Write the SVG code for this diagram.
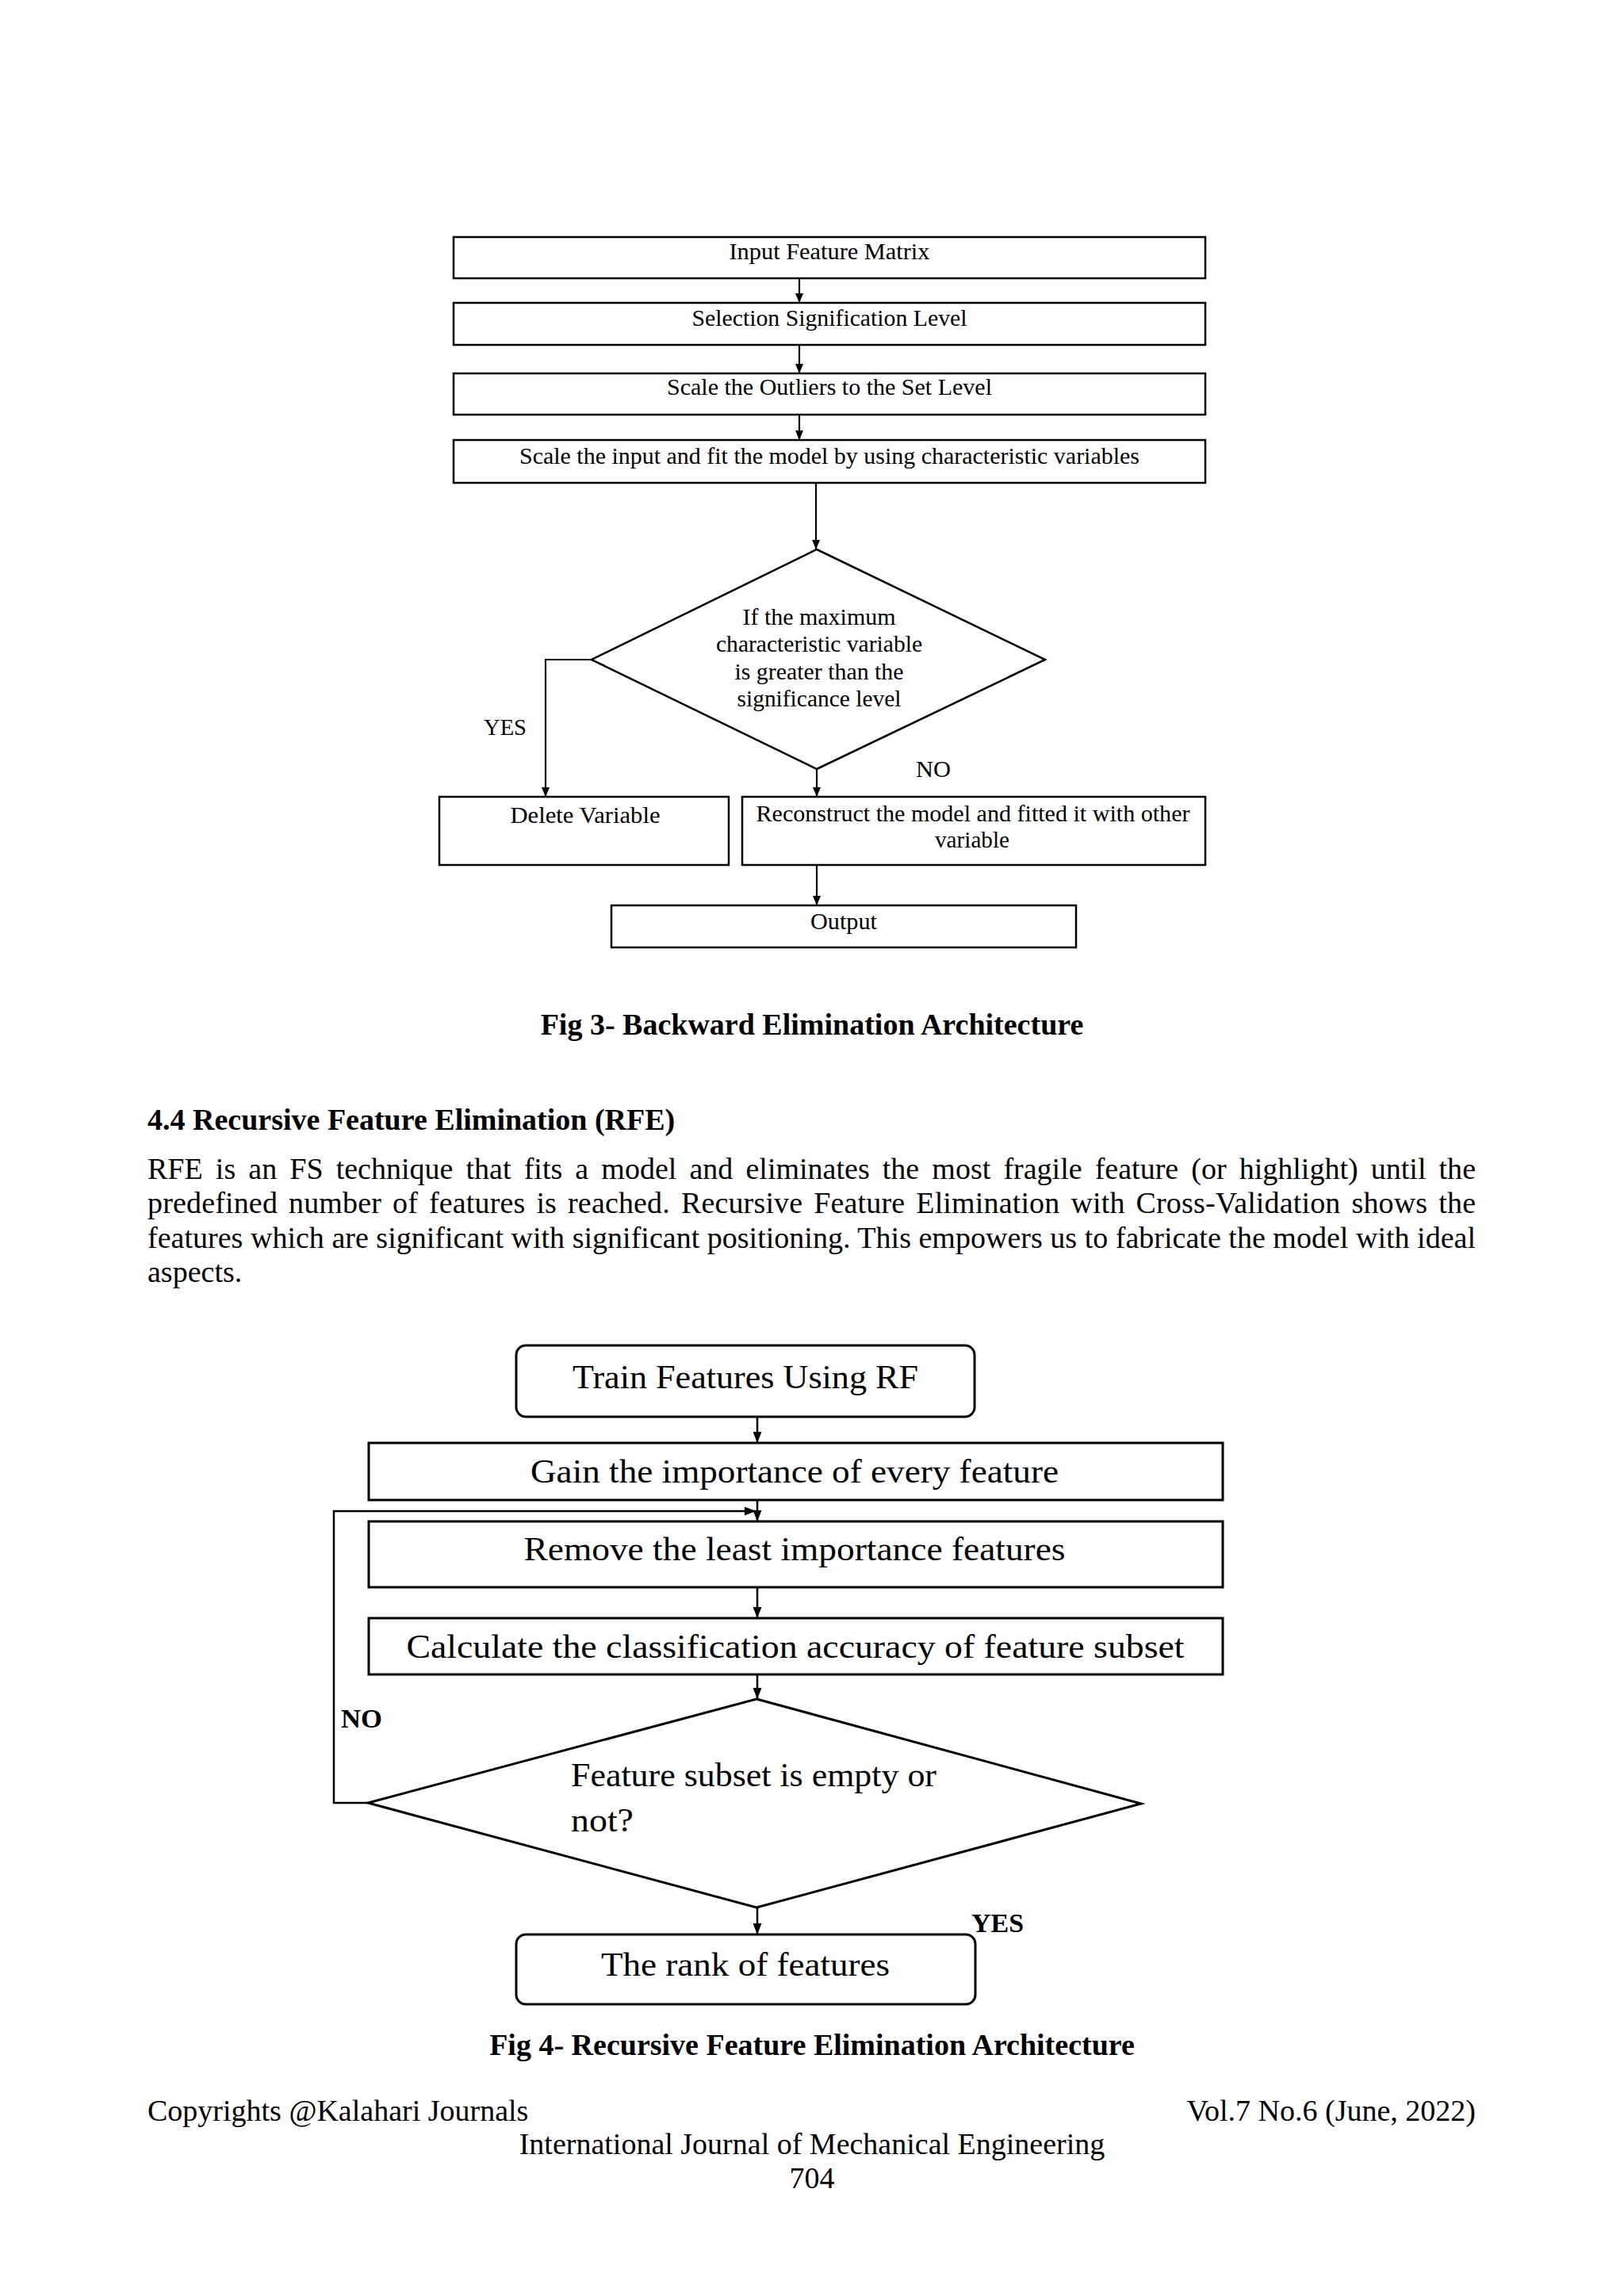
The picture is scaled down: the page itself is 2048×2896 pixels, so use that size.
<svg xmlns="http://www.w3.org/2000/svg" width="2048" height="2896" viewBox="0 0 2048 2896">
<defs>
<marker id="ah" markerUnits="userSpaceOnUse" markerWidth="12" markerHeight="10" refX="12" refY="5" orient="auto">
<path d="M0,0 L12,5 L0,10 z" fill="#000"/>
</marker>
<marker id="ah2" markerUnits="userSpaceOnUse" markerWidth="14" markerHeight="11" refX="14" refY="5.5" orient="auto">
<path d="M0,0 L14,5.5 L0,11 z" fill="#000"/>
</marker>
<style>
.b3{fill:#fff;stroke:#000;stroke-width:2.5}
.b4{fill:#fff;stroke:#000;stroke-width:3}
.t3{font-family:'Liberation Serif','Times New Roman',serif;font-size:29px;fill:#000;text-anchor:middle}
.t4{font-family:'Liberation Serif','Times New Roman',serif;font-size:43px;fill:#000;text-anchor:middle}
.body{font-family:'Liberation Serif','Times New Roman',serif;font-size:38px;fill:#000}
.bold{font-weight:bold}
.c3{fill:none;stroke:#000;stroke-width:2.2;marker-end:url(#ah)}
.c4{fill:none;stroke:#000;stroke-width:2.5;marker-end:url(#ah2)}
</style>
</defs>
<rect width="2048" height="2896" fill="#fff"/>

<!-- Fig 3 -->
<g id="f3-input"><rect class="b3" x="572" y="299" width="948" height="52"/><text class="t3" x="1046" y="327" textLength="253" lengthAdjust="spacingAndGlyphs">Input Feature Matrix</text></g>
<g id="f3-selection"><rect class="b3" x="572" y="382" width="948" height="53"/><text class="t3" x="1046" y="411" textLength="347" lengthAdjust="spacingAndGlyphs">Selection Signification Level</text></g>
<g id="f3-outliers"><rect class="b3" x="572" y="471" width="948" height="52"/><text class="t3" x="1046" y="498" textLength="410" lengthAdjust="spacingAndGlyphs">Scale the Outliers to the Set Level</text></g>
<g id="f3-scale"><rect class="b3" x="572" y="555" width="948" height="54"/><text class="t3" x="1046" y="585" textLength="782" lengthAdjust="spacingAndGlyphs">Scale the input and fit the model by using characteristic variables</text></g>
<g id="f3-decision"><polygon class="b3" points="1030,693 1318,832 1030,970 746,832"/>
<text class="t3" x="1033" y="788" textLength="193" lengthAdjust="spacingAndGlyphs">If the maximum</text>
<text class="t3" x="1033" y="822" textLength="260" lengthAdjust="spacingAndGlyphs">characteristic variable</text>
<text class="t3" x="1033" y="857" textLength="213" lengthAdjust="spacingAndGlyphs">is greater than the</text>
<text class="t3" x="1033" y="891" textLength="207" lengthAdjust="spacingAndGlyphs">significance level</text></g>
<g id="f3-delete"><rect class="b3" x="554" y="1005" width="365" height="86"/><text class="t3" x="738" y="1038" textLength="189" lengthAdjust="spacingAndGlyphs">Delete Variable</text></g>
<g id="f3-reconstruct"><rect class="b3" x="936" y="1005" width="584" height="86"/><text class="t3" x="1227" y="1036" textLength="547" lengthAdjust="spacingAndGlyphs">Reconstruct the model and fitted it with other</text><text class="t3" x="1226" y="1069" textLength="94" lengthAdjust="spacingAndGlyphs">variable</text></g>
<g id="f3-output"><rect class="b3" x="771" y="1142" width="586" height="53"/><text class="t3" x="1064" y="1172" textLength="84" lengthAdjust="spacingAndGlyphs">Output</text></g>

<g id="f3-connectors">
<path class="c3" d="M1008,351 V382"/>
<path class="c3" d="M1008,435 V471"/>
<path class="c3" d="M1008,523 V555"/>
<path class="c3" d="M1029,609 V693"/>
<path class="c3" d="M746,832 H688 V1005"/>
<path class="c3" d="M1030,970 V1005"/>
<path class="c3" d="M1030,1091 V1142"/>
<text class="t3" x="637" y="927" textLength="54" lengthAdjust="spacingAndGlyphs">YES</text>
<text class="t3" x="1177" y="980" textLength="44" lengthAdjust="spacingAndGlyphs">NO</text>
</g>

<text class="body bold" x="1024" y="1305" text-anchor="middle">Fig 3- Backward Elimination Architecture</text>

<text class="body bold" x="186" y="1425">4.4 Recursive Feature Elimination (RFE)</text>
<text class="body" x="186" y="1487" word-spacing="6.6" textLength="1675" lengthAdjust="spacing">RFE is an FS technique that fits a model and eliminates the most fragile feature (or highlight) until the</text>
<text class="body" x="186" y="1530" word-spacing="4.3" textLength="1675" lengthAdjust="spacing">predefined number of features is reached. Recursive Feature Elimination with Cross-Validation shows the</text>
<text class="body" x="186" y="1574" textLength="1675" lengthAdjust="spacing">features which are significant with significant positioning. This empowers us to fabricate the model with ideal</text>
<text class="body" x="186" y="1617">aspects.</text>

<!-- Fig 4 -->
<g id="f4-train"><rect class="b4" x="651" y="1697" width="578" height="90" rx="12" ry="12"/><text class="t4" x="940" y="1751" textLength="436" lengthAdjust="spacingAndGlyphs">Train Features Using RF</text></g>
<g id="f4-gain"><rect class="b4" x="465" y="1820" width="1077" height="72"/><text class="t4" x="1002" y="1870" textLength="666" lengthAdjust="spacingAndGlyphs">Gain the importance of every feature</text></g>
<g id="f4-remove"><rect class="b4" x="465" y="1919" width="1077" height="83"/><text class="t4" x="1002" y="1968" textLength="683" lengthAdjust="spacingAndGlyphs">Remove the least importance features</text></g>
<g id="f4-calc"><rect class="b4" x="465" y="2041" width="1077" height="71"/><text class="t4" x="1003" y="2091" textLength="981" lengthAdjust="spacingAndGlyphs">Calculate the classification accuracy of feature subset</text></g>
<g id="f4-decision"><polygon class="b4" points="954,2143 1439,2275 954,2406 464,2274"/>
<text class="t4" x="720" y="2253" text-anchor="start" style="text-anchor:start" textLength="461" lengthAdjust="spacingAndGlyphs">Feature subset is empty or</text>
<text class="t4" x="720" y="2310" style="text-anchor:start" textLength="79" lengthAdjust="spacingAndGlyphs">not?</text></g>
<g id="f4-rank"><rect class="b4" x="651" y="2440" width="579" height="88" rx="12" ry="12"/><text class="t4" x="940" y="2492" textLength="364" lengthAdjust="spacingAndGlyphs">The rank of features</text></g>

<g id="f4-connectors">
<path class="c4" d="M955,1787 V1820"/>
<path class="c4" d="M955,1892 V1919"/>
<path class="c4" d="M955,2002 V2041"/>
<path class="c4" d="M955,2112 V2143"/>
<path class="c4" d="M955,2406 V2440"/>
<path class="c4" d="M464,2274 H421 V1906 H953"/>
<text class="body bold" x="430" y="2179" font-size="34" style="font-size:34px" textLength="52" lengthAdjust="spacingAndGlyphs">NO</text>
<text class="body bold" x="1225" y="2437" style="font-size:34px" textLength="66" lengthAdjust="spacingAndGlyphs">YES</text>
</g>

<text class="body bold" x="1024" y="2592" text-anchor="middle">Fig 4- Recursive Feature Elimination Architecture</text>
<text class="body" x="186" y="2675">Copyrights @Kalahari Journals</text>
<text class="body" x="1861" y="2675" text-anchor="end">Vol.7 No.6 (June, 2022)</text>
<text class="body" x="1024" y="2717" text-anchor="middle">International Journal of Mechanical Engineering</text>
<text class="body" x="1024" y="2760" text-anchor="middle">704</text>
</svg>
